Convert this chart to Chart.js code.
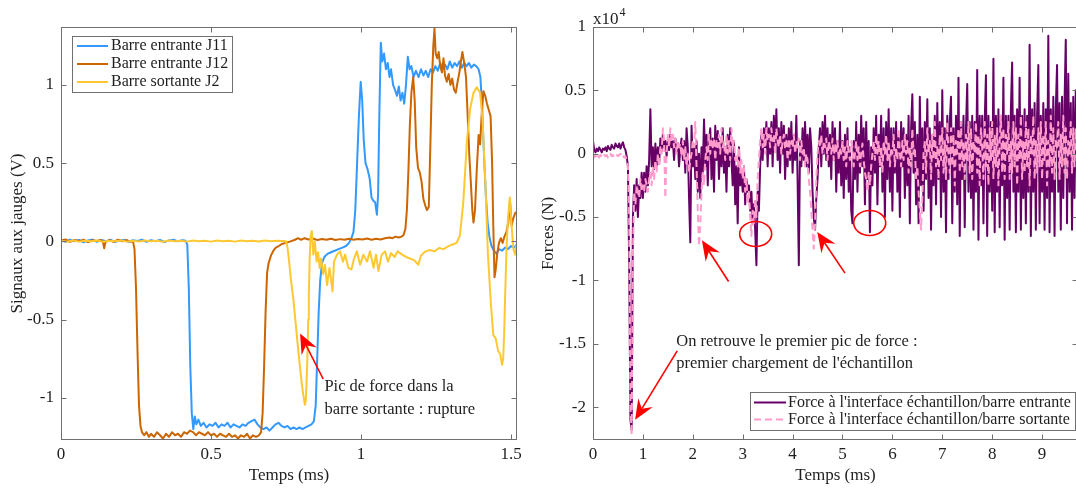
<!DOCTYPE html>
<html>
<head>
<meta charset="utf-8">
<script src="https://cdn.jsdelivr.net/npm/chart.js@4.4.1/dist/chart.umd.min.js"></script>
<style>
html, body { margin: 0; padding: 0; background: #fff; overflow: hidden; }
#wrap { position: relative; width: 1076px; height: 488px; overflow: hidden; }
#left { position: absolute; left: 0; top: 0; }
#right { position: absolute; left: 540px; top: 0; }
</style>
</head>
<body>
<div id="wrap">
  <canvas id="left" width="540" height="488"></canvas>
  <canvas id="right" width="541" height="488"></canvas>
</div>
<script>
// ---- Left plot: gauge signals (V) vs time (ms), [t, v] pairs ----
const j11 = [
  [0,0.008],[0.015,-0.004],[0.03,0.01],[0.045,0.0],[0.06,0.009],[0.075,-0.006],[0.09,0.006],[0.105,0.011],[0.12,-0.003],[0.135,0.008],
  [0.15,0.0],[0.165,0.01],[0.18,-0.005],[0.195,0.006],[0.21,0.009],[0.225,-0.003],[0.24,0.007],[0.255,0.002],[0.27,0.01],[0.285,-0.003],
  [0.3,0.007],[0.315,0.0],[0.33,0.009],[0.345,-0.005],[0.36,0.006],[0.375,0.01],[0.39,0.0],[0.405,0.007],[0.415,0.003],
  [0.421,-0.02],[0.426,-0.3],[0.431,-0.8],[0.436,-1.1],[0.441,-1.2],[0.446,-1.12],[0.451,-1.17],[0.458,-1.14],[0.466,-1.18],[0.475,-1.16],
  [0.485,-1.19],[0.495,-1.17],[0.505,-1.18],[0.515,-1.16],[0.525,-1.19],[0.535,-1.17],[0.545,-1.18],[0.555,-1.16],[0.565,-1.19],[0.575,-1.17],
  [0.585,-1.18],[0.595,-1.19],[0.605,-1.17],[0.615,-1.18],[0.625,-1.16],[0.635,-1.15],[0.645,-1.14],[0.655,-1.17],[0.665,-1.19],[0.675,-1.2],
  [0.685,-1.19],[0.695,-1.21],[0.705,-1.19],[0.715,-1.17],[0.725,-1.16],[0.735,-1.18],[0.745,-1.19],[0.755,-1.18],[0.765,-1.2],[0.775,-1.19],
  [0.785,-1.2],[0.795,-1.19],[0.805,-1.2],[0.815,-1.19],[0.825,-1.18],[0.835,-1.17],[0.843,-1.15],[0.849,-1.05],[0.854,-0.75],[0.859,-0.45],
  [0.864,-0.25],[0.87,-0.14],[0.878,-0.1],[0.888,-0.08],[0.9,-0.07],[0.912,-0.06],[0.925,-0.05],[0.938,-0.04],[0.95,-0.03],[0.96,-0.01],
  [0.968,0.02],[0.975,0.06],[0.981,0.2],[0.987,0.5],[0.993,0.8],[0.999,1.02],[1.004,0.9],[1.009,0.65],[1.015,0.5],[1.022,0.46],
  [1.029,0.4],[1.035,0.28],[1.041,0.26],[1.047,0.25],[1.053,0.17],[1.057,0.3],[1.061,0.8],[1.066,1.27],[1.071,1.15],[1.077,1.2],
  [1.083,1.1],[1.089,1.14],[1.095,1.05],[1.1,1.1],[1.107,1.0],[1.113,0.97],[1.12,0.93],[1.126,0.99],[1.132,0.9],[1.138,0.95],
  [1.144,0.88],[1.15,1.0],[1.156,1.18],[1.162,1.1],[1.168,1.12],[1.175,1.05],[1.183,1.09],[1.192,1.05],[1.2,1.1],[1.208,1.06],
  [1.216,1.09],[1.224,1.05],[1.232,1.1],[1.24,1.08],[1.248,1.12],[1.256,1.09],[1.264,1.14],[1.272,1.1],[1.28,1.13],[1.288,1.1],
  [1.296,1.15],[1.304,1.11],[1.312,1.14],[1.32,1.12],[1.328,1.15],[1.336,1.11],[1.344,1.14],[1.352,1.12],[1.36,1.14],[1.368,1.11],
  [1.376,1.13],[1.384,1.12],[1.392,1.1],[1.398,1.05],[1.404,0.85],[1.41,0.55],[1.416,0.3],[1.422,0.12],[1.428,0.03],[1.435,-0.03],
  [1.443,-0.06],[1.452,-0.08],[1.46,-0.05],[1.47,-0.06],[1.48,-0.04],[1.49,-0.05],[1.5,-0.03],[1.51,-0.04],[1.52,-0.02]
];
const j12 = [
  [0,0.005],[0.015,0.012],[0.03,-0.004],[0.045,0.008],[0.06,0.0],[0.075,0.01],[0.09,-0.005],[0.105,0.007],[0.12,0.002],[0.132,0.008],
  [0.14,-0.005],[0.144,-0.045],[0.148,-0.005],[0.16,0.008],[0.175,-0.004],[0.19,0.01],[0.205,0.0],[0.22,0.008],[0.232,-0.003],[0.24,0.0],
  [0.245,-0.05],[0.25,-0.3],[0.255,-0.7],[0.26,-1.05],[0.265,-1.18],[0.27,-1.22],[0.277,-1.24],[0.285,-1.22],[0.293,-1.25],[0.3,-1.23],
  [0.31,-1.25],[0.32,-1.22],[0.33,-1.24],[0.34,-1.26],[0.35,-1.23],[0.36,-1.25],[0.37,-1.22],[0.38,-1.24],[0.39,-1.23],[0.4,-1.25],
  [0.41,-1.22],[0.42,-1.23],[0.43,-1.21],[0.44,-1.22],[0.45,-1.24],[0.46,-1.22],[0.47,-1.23],[0.48,-1.24],[0.49,-1.22],[0.5,-1.24],
  [0.51,-1.23],[0.52,-1.25],[0.53,-1.23],[0.54,-1.24],[0.55,-1.25],[0.56,-1.23],[0.57,-1.25],[0.58,-1.24],[0.59,-1.26],[0.6,-1.24],
  [0.61,-1.25],[0.62,-1.23],[0.63,-1.26],[0.64,-1.24],[0.65,-1.25],[0.66,-1.24],[0.667,-1.22],[0.672,-1.1],[0.677,-0.8],[0.682,-0.45],
  [0.687,-0.2],[0.692,-0.14],[0.7,-0.09],[0.708,-0.06],[0.716,-0.04],[0.726,-0.03],[0.738,-0.015],[0.75,-0.01],[0.765,0.0],[0.78,0.01],
  [0.79,0.02],[0.8,0.01],[0.812,0.02],[0.825,0.012],[0.84,0.018],[0.855,0.008],[0.87,0.015],[0.885,0.01],[0.9,0.016],[0.915,0.008],
  [0.93,0.014],[0.945,0.01],[0.96,0.016],[0.975,0.01],[0.99,0.015],[1.005,0.012],[1.02,0.018],[1.035,0.01],[1.05,0.016],[1.065,0.012],
  [1.08,0.02],[1.095,0.025],[1.105,0.02],[1.115,0.03],[1.125,0.025],[1.135,0.03],[1.142,0.04],[1.148,0.08],[1.153,0.2],[1.158,0.45],
  [1.163,0.75],[1.168,0.95],[1.174,1.05],[1.179,0.9],[1.184,0.6],[1.19,0.47],[1.196,0.44],[1.202,0.38],[1.208,0.27],[1.214,0.23],
  [1.22,0.2],[1.226,0.22],[1.231,0.6],[1.236,1.0],[1.241,1.25],[1.245,1.36],[1.249,1.2],[1.254,1.17],[1.259,1.21],[1.264,1.12],
  [1.27,1.08],[1.275,1.17],[1.28,1.06],[1.286,1.02],[1.292,1.07],[1.298,1.0],[1.304,1.04],[1.31,0.97],[1.316,0.95],[1.322,1.02],
  [1.328,1.08],[1.333,1.15],[1.338,1.21],[1.344,1.14],[1.35,1.05],[1.356,0.78],[1.361,0.55],[1.366,0.38],[1.371,0.2],[1.375,0.12],
  [1.38,0.2],[1.386,0.46],[1.392,0.68],[1.397,0.62],[1.402,0.8],[1.408,0.96],[1.414,0.93],[1.42,0.88],[1.426,0.84],[1.432,0.8],
  [1.437,0.5],[1.441,0.1],[1.445,-0.23],[1.449,-0.18],[1.454,-0.08],[1.46,-0.01],[1.466,0.02],[1.472,-0.01],[1.478,0.03],[1.485,0.06],
  [1.491,0.12],[1.497,0.25],[1.502,0.1],[1.508,0.15],[1.514,0.18],[1.52,0.19]
];
const j2 = [
  [0,0.004],[0.02,-0.003],[0.04,0.005],[0.06,-0.002],[0.08,0.004],[0.1,0.0],[0.12,0.005],[0.14,-0.003],[0.16,0.004],[0.18,0.001],
  [0.2,0.005],[0.22,-0.002],[0.24,0.004],[0.26,-0.001],[0.28,0.005],[0.3,0.0],[0.32,0.004],[0.34,-0.003],[0.36,0.005],[0.38,0.001],
  [0.4,0.004],[0.42,-0.002],[0.44,0.005],[0.46,0.0],[0.48,0.004],[0.5,-0.002],[0.52,0.005],[0.54,0.001],[0.56,0.004],[0.58,-0.002],
  [0.6,0.005],[0.62,0.0],[0.64,0.004],[0.66,-0.001],[0.68,0.005],[0.7,0.0],[0.72,0.004],[0.74,0.002],[0.75,0.0],
  [0.755,-0.04],[0.76,-0.12],[0.765,-0.22],[0.77,-0.3],[0.775,-0.38],[0.78,-0.48],[0.786,-0.6],[0.792,-0.72],[0.797,-0.81],[0.802,-0.9],
  [0.806,-0.96],[0.81,-1.01],[0.813,-1.045],[0.816,-1.02],[0.819,-0.88],[0.822,-0.7],[0.824,-0.5],[0.826,-0.35],[0.829,-0.1],[0.832,0.03],
  [0.836,0.066],[0.841,-0.085],[0.846,0.0],[0.852,-0.13],[0.857,-0.07],[0.862,-0.17],[0.867,-0.11],[0.874,-0.21],[0.88,-0.15],[0.887,-0.28],
  [0.895,-0.17],[0.905,-0.32],[0.91,-0.13],[0.92,-0.085],[0.93,-0.064],[0.94,-0.13],[0.947,-0.085],[0.958,-0.17],[0.968,-0.18],[0.977,-0.11],
  [0.986,-0.064],[0.997,-0.15],[1.008,-0.085],[1.02,-0.13],[1.03,-0.064],[1.042,-0.17],[1.05,-0.085],[1.058,-0.19],[1.069,-0.085],[1.08,-0.064],
  [1.09,-0.13],[1.1,-0.075],[1.112,-0.1],[1.122,-0.064],[1.137,-0.085],[1.15,-0.1],[1.163,-0.11],[1.177,-0.12],[1.191,-0.15],[1.2,-0.09],
  [1.215,-0.064],[1.23,-0.055],[1.245,-0.064],[1.26,-0.043],[1.275,-0.05],[1.29,-0.032],[1.305,-0.02],[1.319,-0.01],[1.33,0.04],[1.341,0.25],
  [1.353,0.64],[1.364,0.85],[1.375,0.95],[1.386,0.985],[1.397,0.95],[1.405,0.78],[1.415,0.35],[1.423,-0.08],[1.433,-0.4],[1.441,-0.6],
  [1.449,-0.62],[1.457,-0.7],[1.464,-0.72],[1.47,-0.79],[1.474,-0.75],[1.477,-0.6],[1.48,-0.38],[1.485,-0.05],[1.49,0.15],[1.496,0.28],
  [1.502,0.1],[1.508,-0.05],[1.514,-0.085],[1.52,0.0]
];
const leftXTicks = [0, 0.5, 1, 1.5];
const leftYTicks = [-1, -0.5, 0, 0.5, 1];

// ---- Right plot: interface forces (x10^4 N), one sample every 0.025 ms ----
const forceDt = 0.025;
const forceIn = [
  0.10,0.03,0.01,0.04,0.02,0.05,0.03,0.01,0.04,0.03,0.05,0.02,0.06,0.04,0.03,0.07,0.05,0.04,0.08,0.06,
  0.05,0.08,0.04,0.07,0.09,0.05,0.03,-0.02,-0.1,-0.85,-2.1,-2.18,-0.5,-0.25,-0.45,-0.2,-0.5,-0.25,-0.35,-0.15,
  -0.35,-0.15,-0.3,-0.1,-0.25,-0.05,0.35,-0.1,0.05,-0.12,0.08,-0.1,0.05,-0.08,0.12,0.02,0.15,0.05,0.1,-0.02,
  0.1,0.03,0.15,0.05,0.1,-0.05,0.12,0.02,0.08,-0.1,0.05,0.12,-0.05,0.1,-0.15,0.2,0.05,-0.35,-0.7,0.22,
  -0.1,0.05,-0.2,0.1,-0.3,0.0,-0.35,0.05,-0.15,0.27,-0.1,0.15,-0.25,0.1,0.2,-0.2,0.12,-0.3,0.22,-0.05,
  0.18,-0.2,0.1,-0.1,0.2,-0.15,0.05,-0.3,0.15,-0.1,0.2,-0.05,-0.25,0.1,-0.4,-0.1,-0.55,0.05,-0.25,-0.15,
  -0.3,-0.1,-0.4,-0.2,-0.3,-0.25,-0.45,-0.3,-0.55,-0.4,-0.6,-0.88,-0.3,-0.45,-0.1,0.15,-0.05,0.2,0.05,0.25,
  -0.1,0.2,0.0,0.25,-0.1,0.3,0.05,0.35,-0.05,0.2,-0.15,0.25,0.0,0.22,-0.2,0.15,-0.1,0.2,-0.05,0.25,
  -0.15,0.15,-0.05,0.3,-0.2,-0.88,0.1,-0.1,0.2,-0.05,0.25,-0.1,0.15,-0.15,0.2,0.05,-0.3,-0.5,-0.6,-0.35,
  -0.2,0.05,0.2,-0.1,0.25,0.0,0.3,-0.05,0.2,-0.1,0.15,-0.2,0.25,-0.05,0.2,-0.3,0.1,-0.15,0.25,-0.25,
  0.1,-0.35,0.15,-0.2,0.2,-0.3,0.05,-0.45,-0.55,0.1,-0.2,0.25,-0.3,0.15,-0.15,0.3,-0.1,0.2,-0.4,0.25,
  -0.2,0.1,-0.62,0.05,-0.25,0.2,-0.15,0.3,-0.4,0.15,-0.1,0.3,-0.3,0.2,-0.5,0.25,-0.2,0.35,-0.3,0.2,
  -0.45,0.2,-0.15,0.25,-0.3,0.15,-0.5,0.25,-0.1,0.2,-0.35,0.15,-0.25,0.3,-0.55,0.2,0.47,-0.15,0.25,-0.4,
  0.15,-0.55,0.45,-0.25,0.2,-0.45,0.25,-0.2,0.43,-0.35,0.2,-0.6,0.15,-0.25,0.3,-0.4,0.4,-0.2,0.25,-0.5,
  0.5,-0.3,0.2,-0.62,0.3,-0.2,0.25,0.45,-0.55,0.2,-0.3,0.3,-0.4,0.6,-0.65,0.25,-0.2,0.3,-0.58,0.2,
  0.55,-0.3,0.25,-0.35,0.3,-0.6,0.25,-0.3,0.66,-0.68,0.3,-0.25,0.3,-0.55,0.25,0.62,-0.65,0.3,-0.3,0.25,
  -0.45,0.75,-0.62,0.3,-0.3,0.35,-0.58,0.3,-0.25,0.6,-0.68,0.3,-0.35,0.3,-0.6,0.35,0.72,-0.3,0.3,-0.62,
  0.35,-0.3,0.6,-0.6,0.3,-0.35,0.35,-0.55,0.3,-0.3,0.86,-0.65,0.35,-0.3,0.4,-0.6,0.3,0.7,-0.55,0.3,
  -0.3,0.4,-0.6,0.35,-0.35,0.93,-0.62,0.35,-0.3,0.45,-0.65,0.35,0.7,-0.3,0.4,-0.6,0.45,-0.35,0.4,0.9,
  -0.55,0.63,-0.3,0.4,-0.6,0.45,-0.35,0.5,-0.2
];
const forceOut = [
  -0.02,-0.03,-0.01,-0.04,-0.02,-0.03,-0.01,-0.02,-0.03,-0.01,-0.02,-0.01,-0.03,-0.02,0.0,-0.02,-0.01,-0.03,-0.02,-0.01,
  -0.02,-0.01,0.0,-0.02,-0.01,-0.03,-0.02,-0.05,-0.1,-0.5,-2.0,-2.22,-0.8,-0.3,-0.4,-0.25,-0.3,-0.35,-0.2,-0.3,
  -0.25,-0.3,-0.2,-0.25,-0.3,-0.2,-0.15,-0.25,-0.1,-0.2,-0.05,-0.15,0.0,-0.1,0.05,0.0,0.2,0.1,-0.35,0.0,
  0.15,0.05,0.2,0.1,0.15,0.05,0.12,0.0,0.1,0.05,0.08,-0.02,0.1,-0.05,0.05,-0.1,0.0,-0.15,-0.05,0.0,
  0.1,0.05,0.25,-0.1,-0.45,-0.73,-0.55,-0.3,-0.15,-0.25,-0.05,0.05,-0.05,0.15,0.0,0.1,0.05,0.12,-0.05,0.1,
  0.05,0.15,0.0,0.2,0.05,0.1,-0.05,0.15,0.0,0.1,-0.05,0.2,0.05,0.1,-0.05,0.0,-0.1,0.05,-0.15,-0.05,
  -0.2,-0.1,-0.3,-0.2,-0.4,-0.3,-0.5,-0.65,-0.45,-0.55,-0.35,-0.5,-0.2,-0.05,0.1,0.2,0.05,0.15,0.0,0.2,
  0.1,0.15,0.05,0.2,0.1,0.15,0.0,0.2,0.1,0.05,0.15,0.0,0.1,0.15,0.05,0.1,-0.05,0.12,0.0,0.1,
  0.05,0.15,0.0,0.1,0.05,0.12,-0.05,0.1,0.0,0.05,-0.1,0.0,-0.05,-0.2,-0.3,-0.45,-0.6,-0.75,-0.55,-0.2,
  0.0,0.1,0.05,0.15,0.0,0.1,0.05,0.12,-0.05,0.1,0.05,0.0,0.12,-0.05,0.08,0.0,0.1,-0.05,0.05,0.0,
  0.1,-0.05,0.05,-0.1,0.1,0.0,-0.05,0.1,0.05,-0.1,0.0,0.1,-0.05,0.05,-0.1,0.0,0.08,-0.05,-0.15,-0.2,
  -0.3,-0.15,-0.25,-0.1,0.0,0.1,-0.05,0.15,0.0,0.1,-0.1,0.05,-0.15,0.1,0.0,0.15,-0.05,0.1,-0.1,0.05,
  0.0,0.15,-0.1,0.05,-0.05,0.2,0.0,-0.1,0.1,-0.05,0.15,0.0,0.1,-0.15,0.05,-0.1,0.2,0.0,0.05,-0.2,
  -0.1,-0.3,-0.45,-0.6,-0.35,0.0,0.1,-0.15,0.2,0.0,0.1,-0.2,0.15,-0.05,0.25,-0.1,0.05,-0.2,0.15,-0.05,
  0.2,-0.15,0.1,-0.2,0.25,0.0,-0.15,0.2,-0.1,0.15,-0.25,0.1,0.0,0.2,-0.15,0.25,-0.1,0.1,-0.2,0.15,
  -0.05,0.25,-0.15,0.2,-0.2,0.1,0.0,0.25,-0.15,0.15,-0.25,0.2,0.05,-0.2,0.25,-0.1,0.15,-0.25,0.2,-0.05,
  0.25,-0.2,0.15,-0.1,0.2,-0.25,0.1,0.3,-0.15,0.2,-0.2,0.15,0.0,0.25,-0.2,0.1,-0.15,0.25,-0.1,0.2,
  -0.25,0.15,-0.05,0.3,-0.2,0.1,-0.15,0.25,-0.1,0.2,-0.25,0.15,0.0,0.3,-0.2,0.1,-0.15,0.2,-0.1,0.25,
  -0.2,0.15,-0.05,0.25,-0.25,0.1,-0.1,0.3,-0.15,0.2,-0.2,0.1,0.05,0.25,-0.2,0.15,-0.1,0.3,-0.15,0.2,
  -0.2,0.1,0.0,0.25,-0.15,0.2,-0.1,0.2,0.0
];
const rightXTicks = [0, 1, 2, 3, 4, 5, 6, 7, 8, 9];
const rightYTicks = [-2, -1.5, -1, -0.5, 0, 0.5, 1];

// ---- Styling ----
const FONT = "'Liberation Serif', 'Times New Roman', serif";
const INK = '#1e1e1e';
const BOX = '#707070';
const RED = '#ff0000';

const pairsToXY = pts => pts.map(p => ({ x: p[0], y: p[1] }));
const sampledToXY = vals => vals.map((v, i) => ({ x: i * forceDt, y: v }));

function arrow(ctx, x0, y0, x1, y1) {
  const ang = Math.atan2(y1 - y0, x1 - x0);
  const c = Math.cos(ang), s = Math.sin(ang);
  const L = 20, W = 8.5, notch = 13;
  const bx = x1 - L * c, by = y1 - L * s;
  const nx = x1 - notch * c, ny = y1 - notch * s;
  ctx.beginPath(); ctx.moveTo(x0, y0); ctx.lineTo(nx, ny); ctx.stroke();
  ctx.beginPath();
  ctx.moveTo(x1, y1);
  ctx.lineTo(bx - W * s, by + W * c);
  ctx.lineTo(nx, ny);
  ctx.lineTo(bx + W * s, by - W * c);
  ctx.closePath(); ctx.fill();
}

// box around the axes with inward ticks on all four sides (MATLAB look)
const axesBox = {
  id: 'axesBox',
  afterDatasetsDraw(chart, args, opts) {
    const { ctx, chartArea: a, scales: { x, y } } = chart;
    const L = Math.round(a.left) + 0.5, T = Math.round(a.top) + 0.5;
    const R = Math.round(a.right) - 0.5, B = Math.round(a.bottom) - 0.5;
    ctx.save();
    ctx.strokeStyle = BOX; ctx.lineWidth = 1;
    ctx.strokeRect(L, T, R - L, B - T);
    ctx.beginPath();
    x.ticks.forEach(t => {
      const px = Math.round(x.getPixelForValue(t.value)) + 0.5;
      ctx.moveTo(px, B); ctx.lineTo(px, B - 5);
      ctx.moveTo(px, T); ctx.lineTo(px, T + 5);
    });
    y.ticks.forEach(t => {
      const py = Math.round(y.getPixelForValue(t.value)) + 0.5;
      ctx.moveTo(L, py); ctx.lineTo(L + 5, py);
      ctx.moveTo(R, py); ctx.lineTo(R - 5, py);
    });
    ctx.stroke();
    if (opts.exponent) {
      ctx.fillStyle = INK; ctx.textAlign = 'left'; ctx.textBaseline = 'alphabetic';
      ctx.font = `17px ${FONT}`;
      ctx.fillText('x10', a.left, a.top - 3);
      const w = ctx.measureText('x10').width;
      ctx.font = `12px ${FONT}`;
      ctx.fillText(opts.exponent, a.left + w + 1, a.top - 11);
    }
    ctx.restore();
  }
};

// red arrows, rings and notes, placed in data coordinates
const notes = {
  id: 'notes',
  afterDatasetsDraw(chart, args, opts) {
    const { ctx, scales: { x, y } } = chart;
    const px = p => [x.getPixelForValue(p[0]), y.getPixelForValue(p[1])];
    ctx.save();
    ctx.strokeStyle = RED; ctx.fillStyle = RED; ctx.lineWidth = 1.6;
    (opts.rings || []).forEach(r => {
      const [cx, cy] = px(r.at);
      ctx.beginPath(); ctx.ellipse(cx, cy, r.rx, r.ry, 0, 0, Math.PI * 2); ctx.stroke();
    });
    (opts.arrows || []).forEach(ar => {
      const [x0, y0] = px(ar.from), [x1, y1] = px(ar.to);
      arrow(ctx, x0, y0, x1, y1);
    });
    ctx.fillStyle = INK; ctx.textAlign = 'left'; ctx.textBaseline = 'middle';
    ctx.font = `16.5px ${FONT}`;
    (opts.texts || []).forEach(t => {
      const [tx, ty] = px(t.at);
      ctx.fillText(t.text, tx, ty);
    });
    ctx.restore();
  }
};

// legend in a framed box inside the axes
const boxLegend = {
  id: 'boxLegend',
  afterDatasetsDraw(chart, args, o) {
    const { ctx, chartArea: a } = chart;
    const sets = chart.data.datasets;
    ctx.save();
    ctx.font = `16px ${FONT}`;
    const tw = Math.max(...sets.map(d => ctx.measureText(d.label).width));
    const w = Math.round(o.textX + tw + 4);
    const h = Math.round(o.rowTop * 2 + o.rowGap * (sets.length - 1));
    const bx = Math.round(o.corner === 'se' ? a.right - o.dx - w : a.left + o.dx);
    const by = Math.round(o.corner === 'se' ? a.bottom - o.dy - h : a.top + o.dy);
    ctx.fillStyle = '#fff'; ctx.fillRect(bx, by, w, h);
    ctx.strokeStyle = BOX; ctx.lineWidth = 1; ctx.strokeRect(bx + 0.5, by + 0.5, w, h);
    sets.forEach((d, i) => {
      const ly = by + o.rowTop + i * o.rowGap;
      ctx.strokeStyle = d.borderColor; ctx.lineWidth = 2;
      ctx.setLineDash(d.borderDash || []);
      ctx.beginPath(); ctx.moveTo(bx + o.lineX0, ly); ctx.lineTo(bx + o.lineX1, ly); ctx.stroke();
      ctx.setLineDash([]);
      ctx.fillStyle = INK; ctx.textAlign = 'left'; ctx.textBaseline = 'middle';
      ctx.fillText(d.label, bx + o.textX, ly);
    });
    ctx.restore();
  }
};

function axisX(min, max, ticks, title) {
  return {
    type: 'linear', min, max,
    afterBuildTicks: s => { s.ticks = ticks.map(v => ({ value: v })); },
    afterFit: s => { s.height = 48; },
    grid: { display: false, drawTicks: false },
    border: { display: false },
    ticks: { autoSkip: false, maxRotation: 0, padding: 6.5, color: INK,
             font: { family: FONT, size: 17, lineHeight: 1 }, callback: v => String(v) },
    title: { display: true, text: title, color: INK,
             font: { family: FONT, size: 17, lineHeight: 1 }, padding: { top: 0, bottom: 4 } }
  };
}

function axisY(min, max, ticks, title, width, titlePad) {
  return {
    type: 'linear', min, max,
    afterBuildTicks: s => { s.ticks = ticks.map(v => ({ value: v })); },
    afterFit: s => { s.width = width; },
    grid: { display: false, drawTicks: false },
    border: { display: false },
    ticks: { autoSkip: false, padding: 7, color: INK,
             font: { family: FONT, size: 17, lineHeight: 1 }, callback: v => String(v) },
    title: { display: true, text: title, color: INK,
             font: { family: FONT, size: 17, lineHeight: 1 }, padding: { top: titlePad, bottom: 0 } }
  };
}

const common = {
  responsive: false,
  animation: false,
  devicePixelRatio: 1,
  events: [],
  elements: { point: { radius: 0 }, line: { borderWidth: 2, tension: 0, borderJoinStyle: 'round' } }
};

new Chart(document.getElementById('left'), {
  type: 'line',
  data: {
    datasets: [
      { label: 'Barre entrante J11', data: pairsToXY(j11), borderColor: '#3399ff', order: 3 },
      { label: 'Barre entrante J12', data: pairsToXY(j12), borderColor: '#cc6600', order: 2 },
      { label: 'Barre sortante J2', data: pairsToXY(j2), borderColor: '#ffc832', order: 1 }
    ]
  },
  options: {
    ...common,
    layout: { padding: { left: 0, right: 23, top: 27, bottom: 0 } },
    plugins: {
      legend: { display: false },
      tooltip: { enabled: false },
      boxLegend: { corner: 'nw', dx: 11, dy: 9, rowTop: 10, rowGap: 18, lineX0: 5, lineX1: 36, textX: 39 },
      notes: {
        arrows: [{ from: [0.874, -0.88], to: [0.797, -0.59] }],
        texts: [
          { at: [0.878, -0.93], text: 'Pic de force dans la' },
          { at: [0.878, -1.075], text: 'barre sortante : rupture' }
        ]
      }
    },
    scales: {
      x: axisX(0, 1.52, leftXTicks, 'Temps (ms)'),
      y: axisY(-1.27, 1.37, leftYTicks, 'Signaux aux jauges (V)', 61, 9.5)
    }
  },
  plugins: [axesBox, notes, boxLegend]
});

new Chart(document.getElementById('right'), {
  type: 'line',
  data: {
    datasets: [
      { label: "Force à l'interface échantillon/barre entrante", data: sampledToXY(forceIn),
        borderColor: '#660066', order: 2 },
      { label: "Force à l'interface échantillon/barre sortante", data: sampledToXY(forceOut),
        borderColor: '#ff9ccc', borderDash: [7, 4], order: 1 }
    ]
  },
  options: {
    ...common,
    layout: { padding: { left: 0, right: 3, top: 27, bottom: 0 } },
    plugins: {
      legend: { display: false },
      tooltip: { enabled: false },
      axesBox: { exponent: '4' },
      boxLegend: { corner: 'se', dx: 3, dy: 10, rowTop: 10.5, rowGap: 17, lineX0: 4, lineX1: 36, textX: 38 },
      notes: {
        rings: [
          { at: [3.26, -0.634], rx: 16, ry: 12.5 },
          { at: [5.546, -0.547], rx: 16, ry: 12.5 }
        ],
        arrows: [
          { from: [1.688, -1.556], to: [0.844, -2.1] },
          { from: [2.718, -1.009], to: [2.183, -0.684] },
          { from: [5.05, -0.943], to: [4.495, -0.618] }
        ],
        texts: [
          { at: [1.668, -1.485], text: 'On retrouve le premier pic de force :' },
          { at: [1.668, -1.657], text: "premier chargement de l'échantillon" }
        ]
      }
    },
    scales: {
      x: axisX(0, 9.72, rightXTicks, 'Temps (ms)'),
      y: axisY(-2.26, 1, rightYTicks, 'Forces (N)', 53, 0)
    }
  },
  plugins: [axesBox, notes, boxLegend]
});
</script>
</body>
</html>
